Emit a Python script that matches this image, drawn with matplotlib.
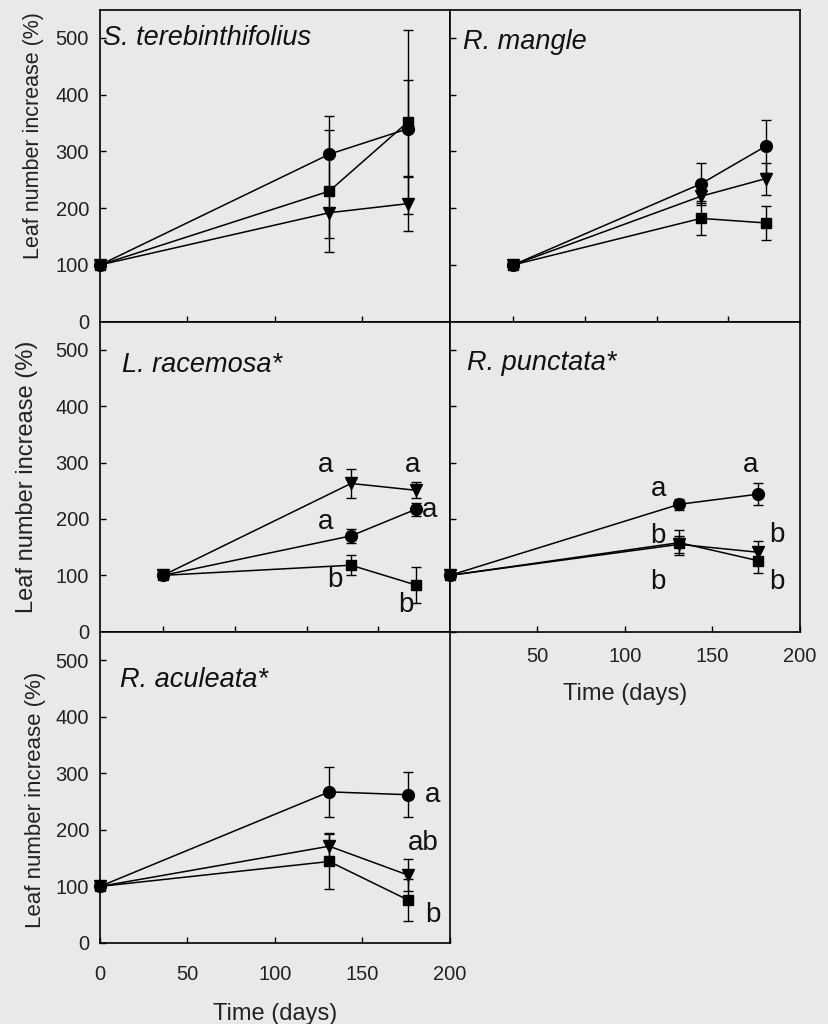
import matplotlib
matplotlib.use("Agg")
import matplotlib.pyplot as plt

plt.rcParams['font.family'] = ['Liberation Sans', 'DejaVu Sans']

BG = '#e9e9e9'

days = [0, 131, 176]

# S. terebinthifolius
st_circle = [100, 295, 340]; st_circle_err = [0, 68, 85]
st_square = [100, 230, 352]; st_square_err = [0, 108, 162]
st_tri = [100, 192, 208]; st_tri_err = [0, 45, 48]

# R. mangle
rm_circle = [100, 243, 309]; rm_circle_err = [0, 37, 47]
rm_square = [100, 182, 174]; rm_square_err = [0, 30, 30]
rm_tri = [100, 221, 252]; rm_tri_err = [0, 12, 28]

# L. racemosa
lr_circle = [100, 170, 217]; lr_circle_err = [5, 13, 12]
lr_square = [100, 118, 83]; lr_square_err = [5, 18, 32]
lr_tri = [100, 263, 251]; lr_tri_err = [5, 26, 14]

# R. punctata
rp_circle = [100, 226, 244]; rp_circle_err = [0, 10, 20]
rp_square = [100, 158, 126]; rp_square_err = [0, 22, 22]
rp_tri = [100, 155, 141]; rp_tri_err = [0, 15, 20]

# R. aculeata
ra_circle = [100, 267, 262]; ra_circle_err = [0, 44, 40]
ra_square = [100, 144, 76]; ra_square_err = [0, 48, 37]
ra_tri = [100, 171, 120]; ra_tri_err = [0, 23, 28]

titles = ['S. terebinthifolius', 'R. mangle', 'L. racemosa*', 'R. punctata*', 'R. aculeata*']

lr_letters = ['a', 'a', 'b', 'a', 'a', 'b']
rp_letters = ['a', 'b', 'b', 'a', 'b', 'b']
ra_letters = ['a', 'ab', 'b']

ytick_vals = [0, 100, 200, 300, 400, 500]
xtick_vals = [0, 50, 100, 150, 200]

W, H = 829, 1024
fig = plt.figure(figsize=(W / 100, H / 100), dpi=100, facecolor=BG)

def fx(px):
    return px / W

def fy_bottom(px):
    return 1 - px / H

colL, colR, colW = fx(100), fx(450), fx(350)
rows = [(9.5, 321.7), (321.7, 631.7), (631.7, 943)]

def make_ax(col, row):
    top, bot = rows[row]
    ax = fig.add_axes([colL if col == 0 else colR, fy_bottom(bot), colW, (bot - top) / H])
    ax.set_facecolor(BG)
    for s in ax.spines.values():
        s.set_linewidth(1.2)
        s.set_color('black')
    ax.set_ylim(0, 550)
    ax.set_yticks(ytick_vals)
    ax.tick_params(direction='in', length=4, width=1.0, labelsize=14.5, colors='black',
                   labelcolor='#222222', pad=8)
    return ax

ax1 = make_ax(0, 0)
ax2 = make_ax(1, 0)
ax3 = make_ax(0, 1)
ax4 = make_ax(1, 1)
ax5 = make_ax(0, 2)

def draw(ax, c, ce, s, se, t, te):
    kw = dict(color='black', lw=1.1, capsize=3.6, elinewidth=1.0, capthick=1.0, clip_on=False,
              markeredgecolor='black', markerfacecolor='black')
    ax.errorbar(days, c, yerr=ce, marker='o', ms=8.5, **kw)
    ax.errorbar(days, s, yerr=se, marker='s', ms=7, **kw)
    ax.errorbar(days, t, yerr=te, marker='v', ms=8.5, **kw)

draw(ax1, st_circle, st_circle_err, st_square, st_square_err, st_tri, st_tri_err)
draw(ax2, rm_circle, rm_circle_err, rm_square, rm_square_err, rm_tri, rm_tri_err)
draw(ax3, lr_circle, lr_circle_err, lr_square, lr_square_err, lr_tri, lr_tri_err)
draw(ax4, rp_circle, rp_circle_err, rp_square, rp_square_err, rp_tri, rp_tri_err)
draw(ax5, ra_circle, ra_circle_err, ra_square, ra_square_err, ra_tri, ra_tri_err)

# x axes
ax1.set_xlim(0, 200); ax1.set_xticks([50, 100, 150]); ax1.set_xticklabels([])
ax2.set_xlim(-44, 200); ax2.set_xticks([0, 50, 100, 150]); ax2.set_xticklabels([])
ax3.set_xlim(-44, 200); ax3.set_xticks([0, 50, 100, 150]); ax3.set_xticklabels([])
ax4.set_xlim(0, 200); ax4.set_xticks(xtick_vals[1:]); ax4.set_xticklabels([str(v) for v in xtick_vals[1:]])
ax5.set_xlim(0, 200); ax5.set_xticks(xtick_vals); ax5.set_xticklabels([str(v) for v in xtick_vals])
ax4.tick_params(axis='x', pad=11)
ax5.tick_params(axis='x', pad=15.5)
ax4.set_xlabel('Time (days)', fontsize=17, color='#222222', labelpad=12)
ax5.set_xlabel('Time (days)', fontsize=17, color='#222222', labelpad=14)

# y tick labels only on left column
for ax in (ax2, ax4):
    ax.set_yticklabels([])

ylab_sizes = [15.5, 17.0, 16.0]
ylab_pos = [(-0.16, 0.595), (-0.177, 0.50), (-0.155, 0.46)]
for ax, fs, (xp, yp) in zip((ax1, ax3, ax5), ylab_sizes, ylab_pos):
    ax.set_ylabel('Leaf number increase (%)', fontsize=fs, color='#222222')
    ax.yaxis.set_label_coords(xp, yp)

title_pos = [(0.01, 0.91), (0.037, 0.896), (0.063, 0.86), (0.048, 0.866), (0.057, 0.846)]
for ax, t, (x, y) in zip((ax1, ax2, ax3, ax4, ax5), titles, title_pos):
    ax.text(x, y, t, transform=ax.transAxes, fontsize=19.5, style='italic',
            ha='left', va='center', color='#111111')

lr_xy = [(113, 295), (113, 195), (120, 92), (174, 295), (186, 216), (169, 47)]
rp_xy = [(119, 254), (119, 169), (119, 89), (172, 296), (187, 172), (187, 89)]
ra_xy = [(190, 261), (185, 176), (190, 50)]
for ax, letters, xy in ((ax3, lr_letters, lr_xy), (ax4, rp_letters, rp_xy), (ax5, ra_letters, ra_xy)):
    for L, (x, y) in zip(letters, xy):
        ax.text(x, y, L, fontsize=20, ha='center', va='center', color='#111111')

fig.savefig('out.png', dpi=100, facecolor=BG)
